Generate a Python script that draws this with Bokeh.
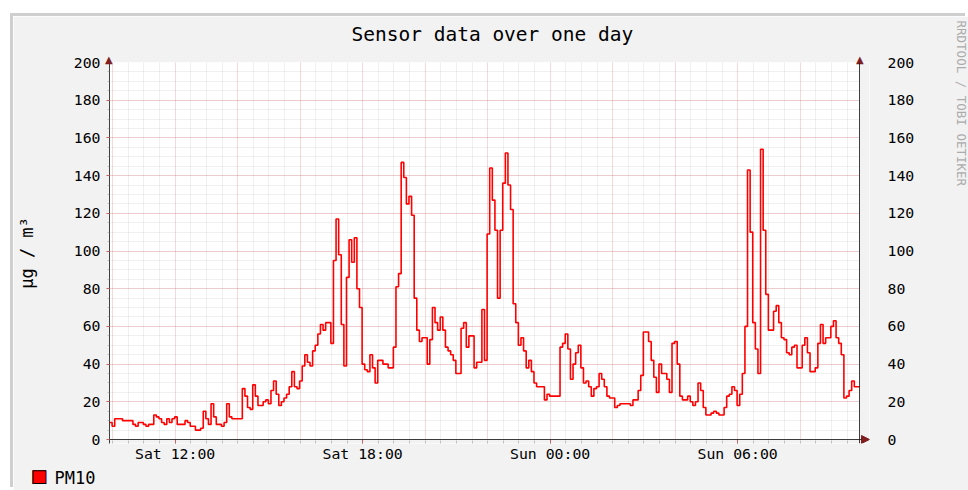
import numpy as np
import pandas as pd
from bokeh.plotting import figure
from bokeh.models import (Range1d, FixedTicker, SingleIntervalTicker, LinearAxis,
                          DatetimeTickFormatter, ColumnDataSource, Arrow, NormalHead,
                          BoxAnnotation, Span, Title)
from bokeh.embed import file_html
from bokeh.resources import INLINE

# ---------------- data ----------------
title_text = "Sensor data over one day"
y_label = "μg / m³"
series_name = "PM10"
series_color = "#FF0000"
watermark = "RRDTOOL / TOBI OETIKER"
start_time = "2018-01-13 09:54"      # Saturday
step_minutes = 5
span_hours = 24
pm10 = [
    9, 7, 11, 11, 11, 10, 10, 10, 10, 8,
    7, 9, 9, 8, 7, 8, 8, 13, 12, 11,
    9, 8, 11, 9, 11, 12, 8, 8, 8, 10,
    9, 7, 7, 5, 5, 6, 15, 11, 8, 19,
    12, 8, 8, 7, 9, 19, 12, 11, 11, 11,
    11, 27, 23, 17, 16, 29, 23, 18, 18, 20,
    21, 19, 26, 31, 24, 18, 20, 22, 24, 28,
    36, 28, 27, 31, 39, 45, 41, 39, 47, 50,
    56, 61, 58, 62, 62, 51, 95, 117, 98, 61,
    39, 86, 106, 94, 107, 80, 70, 40, 37, 36,
    45, 38, 30, 42, 42, 40, 40, 38, 38, 49,
    81, 88, 147, 139, 125, 129, 119, 75, 58, 52,
    54, 54, 40, 53, 70, 62, 58, 65, 58, 49,
    47, 45, 42, 35, 35, 59, 62, 49, 55, 55,
    38, 41, 41, 69, 42, 109, 144, 127, 111, 75,
    111, 136, 152, 135, 122, 72, 62, 50, 54, 47,
    38, 42, 36, 30, 28, 28, 28, 21, 24, 23,
    23, 23, 23, 49, 51, 56, 48, 32, 40, 46,
    50, 38, 30, 31, 28, 23, 27, 28, 35, 32,
    28, 23, 22, 22, 17, 18, 19, 19, 19, 19,
    18, 21, 21, 26, 34, 57, 57, 52, 42, 33,
    25, 40, 35, 35, 32, 25, 51, 52, 40, 23,
    21, 21, 23, 20, 18, 20, 30, 26, 17, 13,
    13, 14, 15, 14, 13, 13, 17, 23, 24, 28,
    26, 18, 24, 35, 60, 143, 110, 62, 48, 35,
    154, 111, 77, 58, 58, 68, 71, 62, 54, 53,
    46, 45, 49, 50, 38, 38, 50, 54, 46, 36,
    36, 38, 51, 61, 51, 54, 54, 60, 63, 54,
    51, 45, 22, 23, 26, 31, 28, 28,
]
tick_times = ["2018-01-13 12:00", "2018-01-13 18:00", "2018-01-14 00:00", "2018-01-14 06:00"]
tick_labels = ["Sat 12:00", "Sat 18:00", "Sun 00:00", "Sun 06:00"]
y_min, y_max = 0, 200
y_major_step, y_minor_per_major = 20, 4
x_major_grid = "2h"
x_minor_grid = "30min"

# ---------------- helpers ----------------
def to_ms(ts):
    return pd.Timestamp(ts).value / 1e6

t0 = to_ms(start_time)
t_end = t0 + span_hours * 3600 * 1000
t = t0 + np.arange(len(pm10)) * step_minutes * 60 * 1000
src = ColumnDataSource(dict(t=list(t) + [t_end], v=pm10 + [pm10[-1]]))

grid_start = pd.Timestamp(start_time).ceil("1h")
grid_end = pd.Timestamp(t_end, unit="ms")
major_grid = [to_ms(x) for x in pd.date_range(grid_start, grid_end, freq=x_major_grid)]
minor_grid = [to_ms(x) for x in pd.date_range(grid_start, grid_end, freq=x_minor_grid)
              if to_ms(x) not in major_grid]
label_ticks = [to_ms(x) for x in tick_times]

# ---------------- layout ----------------
W, H = 955, 474                # canvas, placed at page (13, 16)
DATA_W, DATA_H = 751, 377      # pixel size of the data area
PAD_R, PAD_B = 10, 4           # room for the x-axis arrow head
BL, BT = 96, 46
FW, FH = DATA_W + PAD_R, DATA_H + PAD_B
BR, BB = W - BL - FW, H - BT - FH

x_frame_end = t_end + PAD_R * (t_end - t0) / DATA_W
y_frame_start = y_min - PAD_B * (y_max - y_min) / DATA_H

MONO = "DejaVu Sans Mono"
SANS = "DejaVu Sans"
BACK = "#F2F2F2"
SHADE = "#CFCFCF"
GRID = "#8F8F8F"
MGRID = "#DE4F4F"
ARROW = "#801F1F"
AXIS = "#1F1F1F"

p = figure(width=W, height=H, x_axis_type="datetime",
           x_range=Range1d(t0, x_frame_end), y_range=Range1d(y_frame_start, y_max),
           output_backend="svg", toolbar_location=None,
           min_border_left=BL, min_border_right=BR, min_border_top=BT, min_border_bottom=BB,
           margin=(16, 0, 0, 13),
           styles={"box-shadow": f"-3px -3px 0 0 {SHADE}"})
p.background_fill_color = "white"
p.border_fill_color = BACK
p.outline_line_color = None
p.title.text = ""


def spacer(size_standoff, font_size="10px"):
    return Title(text=" ", text_font=MONO, text_font_size=font_size, standoff=size_standoff)


# ---- above: axis arrow heads, then the title ----
p.add_layout(spacer(-10), "above")
for off in (-4.4, DATA_W - 4.4):
    p.add_layout(Title(text="▲", text_font=SANS, text_font_size="10px", text_color=ARROW,
                       align="left", vertical_align="middle", offset=off, standoff=-14),
                 "above")
p.add_layout(spacer(12), "above")
p.add_layout(Title(text=title_text, text_font=MONO, text_font_size="19.5px",
                   text_font_style="normal", text_color="#000000",
                   align="left", vertical_align="middle", offset=242, standoff=-25), "above")

# x axis
ax = p.xaxis[0]
ax.ticker = FixedTicker(ticks=label_ticks, minor_ticks=major_grid + minor_grid)
ax.formatter = DatetimeTickFormatter(hours="%a %H:%M", hourmin="%a %H:%M", days="%a %H:%M",
                                     minutes="%a %H:%M", minsec="%a %H:%M")
ax.major_label_overrides = {tk: lb for tk, lb in zip(label_ticks, tick_labels)}
ax.axis_line_color = None
ax.major_tick_in, ax.major_tick_out = PAD_B, 0
ax.minor_tick_in, ax.minor_tick_out = PAD_B - 1, 0
ax.major_tick_line_color = MGRID
ax.minor_tick_line_color = GRID
ax.minor_tick_line_alpha = 0.5
ax.major_label_text_font = MONO
ax.major_label_text_font_size = "14.8px"
ax.major_label_text_color = "#000000"
ax.major_label_standoff = 1

# left y axis
yticker = SingleIntervalTicker(interval=y_major_step, num_minor_ticks=y_minor_per_major)
yl = p.yaxis[0]
yl.ticker = yticker
yl.axis_line_color = AXIS
yl.axis_line_alpha = 0.85
yl.major_tick_in, yl.major_tick_out = 0, 3
yl.minor_tick_in, yl.minor_tick_out = 0, 2
yl.major_tick_line_color = MGRID
yl.minor_tick_line_color = GRID
yl.minor_tick_line_alpha = 0.5
yl.major_label_text_font = MONO
yl.major_label_text_font_size = "14.8px"
yl.major_label_text_color = "#000000"
yl.major_label_standoff = 6
yl.axis_label = y_label
yl.axis_label_text_font = MONO
yl.axis_label_text_font_size = "17px"
yl.axis_label_text_font_style = "normal"
yl.axis_label_text_color = "#000000"
yl.axis_label_standoff = 34

# right y axis
yr = LinearAxis(ticker=yticker, axis_line_color=None,
                major_tick_line_color=None, minor_tick_line_color=None,
                major_tick_in=0, major_tick_out=0, minor_tick_in=0, minor_tick_out=0,
                major_label_standoff=18, major_label_text_font=MONO,
                major_label_text_font_size="14.8px", major_label_text_color="#000000")
p.add_layout(yr, "right")

# watermark on the far right (spacer keeps it at the image edge)
p.add_layout(spacer(18, "12px"), "right")
p.add_layout(Title(text=watermark, text_font=MONO, text_font_size="12.5px",
                   text_font_style="normal", text_color="#ABABAB",
                   align="left", vertical_align="top", offset=-42, standoff=0), "right")

# legend row below the x axis: spacer, then swatch and label sharing one line
p.add_layout(spacer(-2), "below")
for glyph, colour in (("■", series_color), ("□", "#000000")):
    p.add_layout(Title(text=glyph, text_font=SANS, text_font_size="18px",
                       text_font_style="normal", text_color=colour,
                       align="left", vertical_align="middle", offset=-79, standoff=-23),
                 "below")
p.add_layout(Title(text=series_name, text_font=MONO, text_font_size="17px",
                   text_font_style="normal", text_color="#000000",
                   align="left", vertical_align="middle", offset=-55, standoff=-18), "below")

# grids
p.xgrid.ticker = FixedTicker(ticks=major_grid, minor_ticks=minor_grid)
p.ygrid.ticker = yticker
for g in (p.xgrid[0], p.ygrid[0]):
    g.grid_line_color = MGRID
    g.grid_line_alpha = 0.45
    g.grid_line_dash = "1 1"
    g.minor_grid_line_color = GRID
    g.minor_grid_line_alpha = 0.27
    g.minor_grid_line_dash = "1 1"

# paint the area outside the data window like the canvas
p.add_layout(BoxAnnotation(left=t_end, fill_color=BACK, fill_alpha=1, line_color=None,
                           level="underlay"))
p.add_layout(BoxAnnotation(top=y_min, fill_color=BACK, fill_alpha=1, line_color=None,
                           level="underlay"))

# data line
p.step(x="t", y="v", source=src, mode="after", line_color=series_color, line_width=1.6)

# right axis line and x axis with arrow
p.add_layout(Span(location=t_end, dimension="height", line_color=AXIS, line_width=1,
                  line_alpha=0.85))
p.add_layout(Arrow(x_start=t0, y_start=y_min, x_end=x_frame_end, y_end=y_min,
                   line_color=AXIS, line_width=1, line_alpha=0.85,
                   end=NormalHead(size=8, fill_color=ARROW, line_color=ARROW, line_width=1)))

open("out.html", "w").write(file_html(p, INLINE))
